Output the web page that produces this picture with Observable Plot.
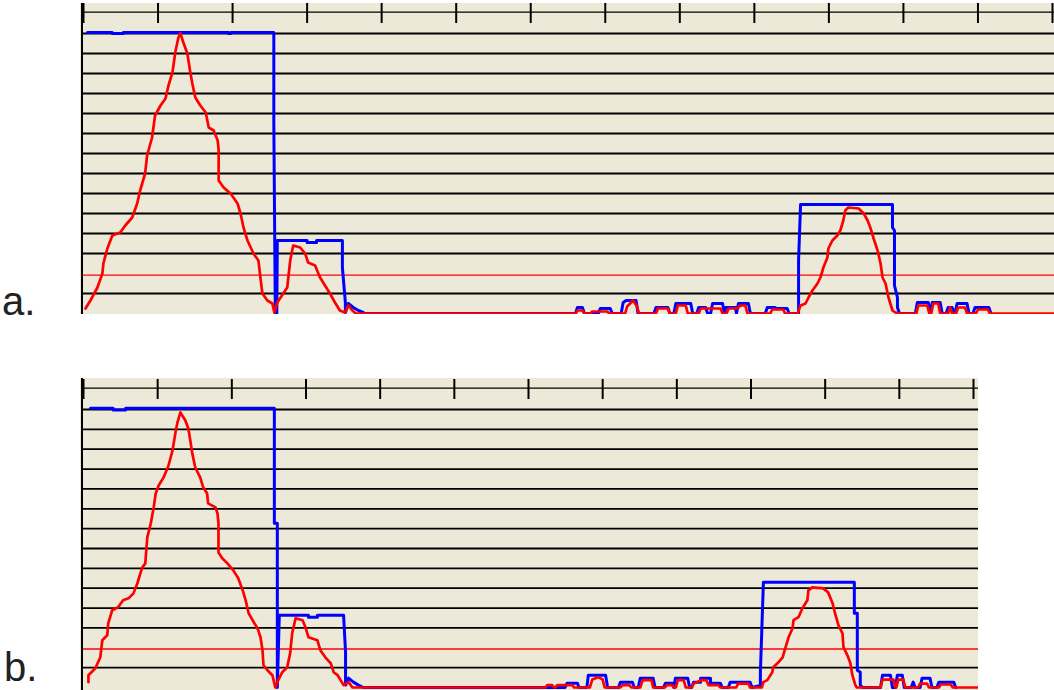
<!DOCTYPE html>
<html><head><meta charset="utf-8">
<script src="https://cdn.jsdelivr.net/npm/d3@7"></script>
<script src="https://cdn.jsdelivr.net/npm/@observablehq/plot@0.6"></script>
<style>
html,body{margin:0;padding:0;background:#fff;width:1054px;height:690px;overflow:hidden;}
.panel{position:absolute;}
.lab{position:absolute;font-family:"Liberation Sans",Arial,sans-serif;font-size:40px;line-height:34px;height:34px;color:#222;}
</style></head><body>
<div id="pa" class="panel" style="left:80px;top:3px;width:974px"></div>
<div id="pb" class="panel" style="left:80px;top:378px;width:898px"></div>
<div class="lab" style="left:2px;top:284px">a.</div>
<div class="lab" style="left:4px;top:650px">b.</div>
<script>
const BEIGE = "#ECE9D8";
const gridLevels = [1,3,4,5,6,7,8,9,10,11,12,13,14];
const thresholdA = 1.92;
const thresholdB = 1.94;
const xTicksA = [0,75,150,225,300,375,450,525,600,675,750,825,900,975];
const xTicksB = [0,75,150,225,300,375,450,525,600,675,750,825,900];

const redA = [
[2,0.25],[7,0.65],[14,1.3],[19,2.0],[20,2.5],[24,3.25],[29,3.9],[37,4.05],[42,4.4],[49,4.8],[54,5.5],[57,6.15],[62,7.0],[64,7.9],[69,8.8],[72,9.9],[77.5,10.4],[82.5,10.75],[85.5,11.4],[89.5,12.05],[92.5,13.1],[95.5,13.8],[97.5,14.0],[100.5,13.55],[104.5,13.0],[107.5,12.05],[109.5,11.5],[112.5,10.8],[117.5,10.4],[123,10.05],[126,9.3],[131,9.15],[135,8.65],[136,8.15],[136,6.65],[141,6.3],[148,6.0],[155,5.5],[158,5.0],[161,4.3],[165,3.65],[171,3.0],[176,2.65],[178,1.8],[180,1.0],[185,0.65],[190,0.5],[192,0.05],[195,0.55],[201,1.0],[205,1.3],[208,2.65],[211,3.4],[218,3.3],[223,3.0],[226,2.55],[233,2.4],[238,1.8],[243,1.4],[248,1.0],[253,0.55],[258,0.15],[263,0.05],[266.5,0.4],[270.5,0.15],[274,0],
[495,0],[497,0.15],[502,0.15],[504,0],[510,0],[512,0.1],[527,0.1],[529,0],[545,0],[547,0.35],[553,0.65],[557,0.35],[559,0],[576,0],[578,0.25],[588,0.25],[590,0],[596,0],[598,0.4],[606,0.4],[608,0],[619,0],[621,0.25],[626,0.25],[631,0.25],[641,0.25],[643,0],[647,0],[649,0.25],[658,0.25],[661,0.4],[666,0.4],[668,0],[691,0],[693,0.2],[704,0.2],[706,0],
[718.5,0],[721.5,0.4],[726.5,0.5],[729.5,0.8],[733.5,1.15],[738.5,1.5],[741.5,1.8],[744.5,2.3],[748.5,2.8],[749.5,3.25],[753.5,3.65],[758.5,3.9],[761.5,4.15],[764.5,4.65],[766.5,5.15],[769.5,5.3],[780,5.25],[785,5.0],[789,4.65],[792,4.25],[795,3.75],[799,3.15],[802,2.5],[804,1.8],[807,1.5],[810,0.8],[814,0.15],[817,0.05],[819,0],
[838,0],[840,0.4],[849,0.4],[851,0],[853,0],[855,0.5],[860,0.5],[862,0],[870,0],[872,0.3],[874,0],[878,0],[880,0.3],[887,0.3],[889,0],[898,0],[900,0.2],[910,0.2],[912,0],[977,0]
];

const blueA = [
[4,14.05],[29,14.05],[29,14.0],[40,14.0],[40,14.05],[146,14.05],[146,14.0],[148,14.0],[148,14.05],[191.5,14.05],[191.5,9.55],[193,0],[194.5,0],[195,3.65],[225,3.65],[225,3.55],[234.5,3.55],[234.5,3.65],[260.5,3.65],[260.5,2.3],[263.5,0.55],[263.5,0.05],[266.5,0.5],[271.5,0.3],[276.5,0.15],[281.5,0.05],[283,0],
[495,0],[497,0.3],[502,0.3],[504,0],[518,0],[520,0.25],[530,0.25],[532,0],[541,0],[543,0.55],[546,0.65],[556,0.65],[558,0],[574,0],[576,0.3],[588,0.3],[590,0],[594,0],[596,0.5],[611,0.5],[613,0],[617,0],[619,0.3],[626,0.3],[628,0],[631,0],[633,0.5],[643,0.5],[645,0],[646,0.3],[656,0.3],[657,0],[659,0.5],[669,0.5],[671,0],[686,0],[688,0.3],[696,0.3],[696,0.25],[708,0.25],[710,0],
[719.5,0],[719.5,2.65],[721.5,5.45],[814,5.45],[814,4.3],[816,4.15],[816,1.4],[819,0.8],[819,0.3],[821,0],
[837,0],[839,0.55],[850,0.55],[852,0],[854,0.55],[862,0.55],[864,0],[868,0],[870,0.3],[874,0.3],[876,0],[877,0],[879,0.5],[889,0.5],[891,0],[895,0],[897,0.3],[911,0.3],[913,0]
];

const redB = [
[5,0.27],[5,0.62],[12,0.97],[17,1.52],[19,2.38],[24,2.63],[25,3.23],[29,3.89],[35,4.04],[40,4.39],[45.5,4.49],[50.5,4.74],[54.5,5.25],[57.5,5.75],[59.5,6.05],[62.5,6.25],[64.5,7.56],[68,8.26],[71,9.07],[73,9.77],[76,10.17],[81,10.58],[86,11.18],[90,11.94],[93,12.84],[95,13.35],[98,13.85],[103,13.45],[106,13.04],[108,12.44],[110,11.79],[113,11.08],[118,10.58],[121,10.08],[125,9.77],[126,9.27],[133.5,9.07],[135.5,8.77],[136.5,8.26],[136.5,6.8],[140.5,6.5],[145.5,6.25],[151.5,5.9],[156.5,5.5],[161,4.89],[164,4.39],[167,3.74],[171,3.39],[176,2.98],[179,2.53],[181,1.88],[182,1.12],[186,0.87],[191,0.62],[194,0],[196,0.27],[201,0.77],[206,1.02],[209,1.73],[211,2.73],[214.5,3.49],[221.5,3.39],[224.5,3.03],[227.5,2.53],[236.5,2.38],[239.5,1.88],[244.5,1.52],[250,1.22],[253,0.77],[257,0.62],[263,0.12],[268,0.27],[272,0],
[467,0],[469,0.12],[474,0.12],[476,0],[477,0],[479,0.12],[494.5,0.12],[496,0],[512,0],[514.5,0.4],[520.5,0.52],[525,0.4],[527,0],[543,0],[545,0.12],[552,0.12],[554,0],[563,0],[565.5,0.37],[574.5,0.37],[576,0],[588,0],[590,0.12],[595,0.12],[597,0],[599,0],[601,0.37],[607,0.37],[609,0],[615,0],[617,0.2],[625,0.37],[630,0.37],[632,0.12],[642,0.12],[644,0],[660,0],[662,0.2],[672.5,0.2],[674,0],[686,0],
[687.5,0.27],[691.5,0.37],[696.5,0.77],[697.5,1.02],[702,1.23],[707,1.52],[710,2.03],[713,2.53],[717,2.98],[718,3.39],[723,3.54],[727,3.99],[732,4.39],[733,4.89],[737,5.04],[748,4.99],[753,4.79],[757.5,4.24],[760.5,3.64],[763.5,3.13],[767.5,2.73],[768.5,2.03],[772.5,1.62],[775.5,1.22],[777.5,0.62],[780.5,0.12],[782,0],
[806,0],[808,0.4],[819,0.4],[821,0],[822,0],[824,0.4],[829,0.4],[831,0],[844,0],[846,0.2],[853,0.2],[855,0],[865,0],[867,0.15],[877,0.15],[879,0],[905,0]
];

const blueB = [
[7,14.06],[30,14.06],[30,13.98],[42.5,13.98],[42.5,14.06],[193,14.06],[193,8.27],[196,8.27],[196,0],[198,3.64],[227.5,3.64],[227.5,3.54],[236.5,3.54],[236.5,3.64],[263,3.64],[265,1.78],[265,0.12],[268,0.47],[273,0.27],[278,0.12],[283,0],
[487,0],[489,0.22],[499.5,0.22],[501,0],[509,0],[510.5,0.62],[528,0.62],[530,0],[541,0],[543,0.27],[555,0.27],[557,0],[561,0],[563,0.47],[576,0.47],[578,0],[586.5,0],[588.5,0.22],[595.5,0.22],[597,0],[598.5,0.47],[611,0.47],[613,0],[615,0],[617,0.27],[624,0.27],[624,0.47],[634,0.47],[634,0.22],[644,0.22],[646,0],[652,0],[654,0.27],[674,0.27],[676,0],
[684.5,0.1],[684.5,0.77],[687.5,5.25],[687.5,5.3],[779.5,5.3],[779.5,3.74],[782.5,3.74],[782.5,0.87],[785.5,0.77],[785.5,0.12],[788,0],
[806,0],[808,0.62],[816,0.62],[818,0],[821,0],[823,0.62],[828,0.62],[830,0],[837,0],[839,0.27],[841,0],[846,0],[848,0.47],[856,0.47],[858,0],[863,0],[865,0.27],[880,0.27],[882,0]
];

function panel(o) {
  return Plot.plot({
    width: o.width, height: o.height,
    marginLeft: 3, marginRight: o.marginRight, marginTop: o.marginTop, marginBottom: o.marginBottom,
    x: {domain: [0, o.xMax], axis: null},
    y: {domain: [0, 14], axis: null},
    style: {background: BEIGE},
    marks: [
      Plot.ruleY(gridLevels, {stroke: "#000", strokeWidth: 1.8, insetLeft: -2, insetRight: -o.marginRight}),
      Plot.ruleY([o.threshold], {stroke: "#ff0000", strokeWidth: 1.3, insetLeft: -2, insetRight: -o.marginRight}),
      Plot.ruleY([14], {dy: -21.3, stroke: "#000", strokeWidth: 1.3, insetLeft: -2, insetRight: -o.marginRight}),
      Plot.ruleX(o.ticks, {stroke: "#000", strokeWidth: 2, insetTop: -o.tickTop, insetBottom: o.tickInsetBottom}),
      Plot.ruleX([0], {dx: -1.5, stroke: "#000", strokeWidth: 2, insetTop: -o.marginTop, insetBottom: -o.marginBottom}),
      Plot.line(o.blue, {x: d => d[0], y: d => d[1], stroke: "#0000ff", strokeWidth: 3}),
      Plot.line(o.red, {x: d => d[0], y: d => d[1], stroke: "#ff0000", strokeWidth: 2.7})
    ]
  });
}

document.getElementById("pa").append(panel({
  width: 974, height: 311, marginRight: 2, marginTop: 30, marginBottom: 1,
  xMax: 975, ticks: xTicksA, red: redA, blue: blueA, threshold: thresholdA,
  tickTop: 30, tickInsetBottom: 290
}));
document.getElementById("pb").append(panel({
  width: 898, height: 312, marginRight: 5, marginTop: 31, marginBottom: 3,
  xMax: 900, ticks: xTicksB, red: redB, blue: blueB, threshold: thresholdB,
  tickTop: 30, tickInsetBottom: 288
}));
</script>
</body></html>
